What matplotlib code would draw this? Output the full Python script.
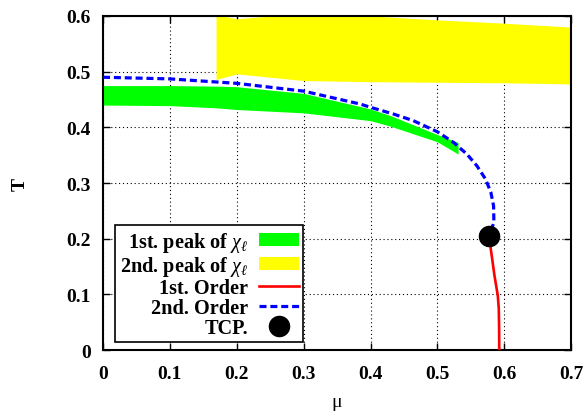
import matplotlib
matplotlib.use("Agg")
import matplotlib.pyplot as plt
from matplotlib.patches import Patch
from matplotlib.lines import Line2D

# Fonts: Times-like serif, bold, like the gnuplot original
plt.rcParams["font.family"] = ["Liberation Serif", "DejaVu Serif"]
plt.rcParams["mathtext.fontset"] = "custom"
plt.rcParams["mathtext.rm"] = "Liberation Serif"
plt.rcParams["mathtext.it"] = "Liberation Serif:italic"
plt.rcParams["mathtext.bf"] = "Liberation Serif:bold"

# ---------------------------------------------------------------------------------------
# Data

# 1st peak of chi (green band)
peak1_mu = [0.0, 0.1, 0.17, 0.2, 0.3, 0.4, 0.43, 0.5, 0.531]
peak1_top = [0.475, 0.475, 0.474, 0.473, 0.461, 0.433, 0.421, 0.387, 0.373]
peak1_bottom = [0.440, 0.439, 0.435, 0.432, 0.426, 0.412, 0.402, 0.374, 0.352]

# 2nd peak of chi (yellow band)
peak2_mu = [0.169, 0.2, 0.3, 0.4, 0.5, 0.6, 0.7]
peak2_top = [0.602, 0.595, 0.605, 0.600, 0.593, 0.587, 0.580]
peak2_bottom = [0.486, 0.496, 0.484, 0.482, 0.481, 0.480, 0.478]

# 2nd order line (blue dashed)
second_mu = [0.0, 0.1, 0.2, 0.3, 0.384, 0.4, 0.434, 0.464, 0.5, 0.524, 0.544,
             0.559, 0.572, 0.580, 0.584, 0.5845, 0.577]
second_T = [0.490, 0.487, 0.479, 0.465, 0.442, 0.436, 0.424, 0.412, 0.392, 0.373,
            0.352, 0.331, 0.307, 0.283, 0.259, 0.229, 0.205]

# 1st order line (red)
first_mu = [0.577, 0.5813, 0.5853, 0.5903, 0.5918, 0.5923, 0.5925]
first_T = [0.205, 0.169, 0.134, 0.098, 0.074, 0.038, 0.0]

# Tri-critical point
tcp_mu = [0.577]
tcp_T = [0.205]

x_ticks = [0, 0.1, 0.2, 0.3, 0.4, 0.5, 0.6, 0.7]
x_tick_labels = ["0", "0.1", "0.2", "0.3", "0.4", "0.5", "0.6", "0.7"]
y_ticks = [0, 0.1, 0.2, 0.3, 0.4, 0.5, 0.6]
y_tick_labels = ["0", "0.1", "0.2", "0.3", "0.4", "0.5", "0.6"]

# ---------------------------------------------------------------------------------------

def main():
    fig = plt.figure(figsize=(5.87, 4.14), dpi=100)
    ax = fig.add_axes([0.1755, 0.152, 0.7975, 0.807])

    # Bands
    ax.fill_between(peak1_mu, peak1_bottom, peak1_top, color="#00ff00", lw=0, zorder=2)
    ax.fill_between(peak2_mu, peak2_bottom, peak2_top, color="#ffff00", lw=0, zorder=2)

    # Transition lines
    ax.plot(first_mu, first_T, color="red", lw=1.9, zorder=3)
    ax.plot(second_mu, second_T, color="blue", lw=2.3, linestyle=(0, (2.2, 1.2)), zorder=4)
    ax.plot(tcp_mu, tcp_T, "o", color="black", markersize=14.5, zorder=5)

    # Axes
    ax.set_xlim(0, 0.7)
    ax.set_ylim(0, 0.6)
    ax.set_xticks(x_ticks)
    ax.set_xticklabels(x_tick_labels)
    ax.set_yticks(y_ticks)
    ax.set_yticklabels(y_tick_labels)
    for lab in ax.get_xticklabels() + ax.get_yticklabels():
        lab.set_fontweight("bold")
        lab.set_fontsize(14)
    ax.tick_params(axis="both", direction="in", top=True, right=True, length=5, width=1)
    ax.tick_params(axis="x", pad=11)
    ax.tick_params(axis="y", pad=9)
    for s in ax.spines.values():
        s.set_linewidth(1.5)
    ax.grid(True, color="black", linestyle=(0, (1, 2.5)), linewidth=0.8, zorder=0)
    ax.set_axisbelow(True)

    ax.set_xlabel("μ", fontsize=14, labelpad=8)
    ax.set_ylabel("T", fontsize=14, fontweight="bold", labelpad=27)

    # Legend: label first, sample on the right (gnuplot style)
    handles = [
        Patch(facecolor="#00ff00", edgecolor="none"),
        Patch(facecolor="#ffff00", edgecolor="none"),
        Line2D([], [], color="red", lw=1.9),
        Line2D([], [], color="blue", lw=2.3, linestyle=(0, (2.2, 1.2))),
        Line2D([], [], marker="o", color="black", linestyle="none", markersize=14.5),
    ]
    labels = [r"1st. peak of $\chi{}_\ell$", r"2nd. peak of $\chi{}_\ell$",
              "1st. Order", "2nd. Order", "TCP."]
    leg = ax.legend(handles, labels, loc="lower left", bbox_to_anchor=(0.026, 0.024),
                    borderaxespad=0, markerfirst=False, fancybox=False,
                    edgecolor="black", framealpha=1, handlelength=1.95,
                    handleheight=0.58, handletextpad=0.55, labelspacing=0.0,
                    borderpad=0.22, prop={"weight": "bold", "size": 14.6})
    leg.get_frame().set_linewidth(1.2)
    leg.set_zorder(6)

    fig.savefig("out.png", dpi=100)

# ---------------------------------------------------------------------------------------

main()
